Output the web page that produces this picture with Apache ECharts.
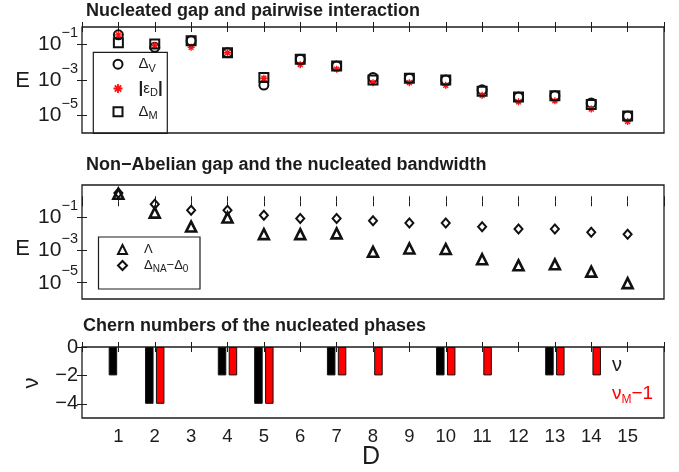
<!DOCTYPE html>
<html>
<head>
<meta charset="utf-8">
<script src="https://cdn.jsdelivr.net/npm/echarts@6/dist/echarts.min.js"></script>
<style>
  html, body { margin: 0; padding: 0; background: #fff; }
  #chart { width: 679px; height: 472px; }
</style>
</head>
<body>
<div id="chart"></div>
<script>
// System size D
const D = [1, 2, 3, 4, 5, 6, 7, 8, 9, 10, 11, 12, 13, 14, 15];

// Nucleated gap and pairwise interaction (energies)
const deltaV = [0.36, 0.071, 0.166, 0.035, 5.2e-4, 0.0148, 0.0063, 1.4e-3, 1.26e-3, 1.0e-3, 2.8e-4, 1.1e-4, 1.3e-4, 5.0e-5, 9.1e-6];
const epsD   = [0.36, 0.09, 0.071, 0.035, 1.26e-3, 7.4e-3, 4.1e-3, 7.1e-4, 7.1e-4, 5.0e-4, 1.35e-4, 5.8e-5, 6.6e-5, 2.3e-5, 4.5e-6];
const deltaM = [0.13, 0.11, 0.166, 0.035, 1.4e-3, 0.0148, 0.0063, 1.0e-3, 1.26e-3, 1.0e-3, 2.3e-4, 1.1e-4, 1.3e-4, 4.1e-5, 9.1e-6];

// Non-Abelian gap and nucleated bandwidth (energies)
const lambdaGap = [2.9, 0.2, 0.028, 0.10, 0.0096, 0.0096, 0.0107, 7.9e-4, 1.26e-3, 1.17e-3, 2.75e-4, 1.17e-4, 1.35e-4, 4.8e-5, 9.5e-6];
const deltaNA   = [3.2, 0.65, 0.28, 0.28, 0.138, 0.087, 0.087, 0.063, 0.047, 0.047, 0.027, 0.020, 0.020, 0.0126, 0.0095];

// Chern numbers
const nu   = [-2, -4, 0, -2, -4, 0, -2, 0, 0, -2, 0, 0, -2, 0, 0];
const nuM1 = [0, -4, 0, -2, -4, 0, -2, -2, 0, -2, -2, 0, -2, -2, 0];

// Tick values
const energyDecades = [-5, -3, -1];
const chernTicks = [0, -2, -4];

const FONT = "'Liberation Sans', Arial, Helvetica, sans-serif";
const INK = '#1c1c1c';
const MINUS = '\u2212';

const chart = echarts.init(document.getElementById('chart'), null, { renderer: 'canvas' });

// asterisk marker (plus + cross)
const STAR = 'path://M0 4L10 4L10 6L0 6Z M4 0L6 0L6 10L4 10Z ' +
  'M2.2 0.8L9.2 7.8L7.8 9.2L0.8 2.2Z M7.8 0.8L9.2 2.2L2.2 9.2L0.8 7.8Z';

const gridBase = { show: true, borderColor: INK, borderWidth: 1.3, backgroundColor: 'transparent' };
const grids = [
  Object.assign({ left: 82, top: 27, width: 582, height: 106 }, gridBase),
  Object.assign({ left: 82, top: 185, width: 582, height: 114 }, gridBase),
  Object.assign({ left: 82, top: 347, width: 582, height: 71 }, gridBase)
];

const tickStyle = { show: true, inside: true, length: 5, lineStyle: { color: INK, width: 1 } };

function xPair(gi, showLabels) {
  const base = {
    type: 'value', gridIndex: gi, min: 0, max: 16, interval: 1,
    splitLine: { show: false }, axisLine: { show: false }, axisTick: tickStyle
  };
  return [
    Object.assign({}, base, {
      position: 'bottom',
      axisLabel: showLabels ? {
        show: true, margin: 9, fontSize: 18.5, fontFamily: FONT, color: INK,
        formatter: v => (D.indexOf(v) >= 0 ? String(v) : '')
      } : { show: false }
    }),
    Object.assign({}, base, { position: 'top', axisLabel: { show: false } })
  ];
}

function yPair(gi, min, max, ticks, label) {
  const base = {
    type: 'value', gridIndex: gi, min: min, max: max,
    splitLine: { show: false }, axisLine: { show: false },
    axisTick: Object.assign({ customValues: ticks }, tickStyle)
  };
  return [
    Object.assign({}, base, {
      position: 'left',
      axisLabel: Object.assign({ show: true, customValues: ticks, margin: 4, fontFamily: FONT, color: INK }, label)
    }),
    Object.assign({}, base, { position: 'right', axisLabel: { show: false } })
  ];
}

const powerLabel = {
  formatter: v => '{b|10}{s|' + (v < 0 ? MINUS : '') + Math.abs(v) + '}',
  rich: {
    b: { fontSize: 21, lineHeight: 38, fontFamily: FONT, color: INK },
    s: { fontSize: 14.5, lineHeight: 16, verticalAlign: 'top', fontFamily: FONT, color: INK }
  }
};
const chernLabel = {
  fontSize: 20,
  formatter: v => (v < 0 ? MINUS + Math.abs(v) : String(v))
};

const xAxes = [].concat(xPair(0, false), xPair(1, false), xPair(2, true));
const yAxes = [].concat(
  yPair(0, -6, 0, energyDecades, powerLabel),
  yPair(1, -6, 1, energyDecades, powerLabel),
  yPair(2, -5, 0, chernTicks, chernLabel)
);

const logPoints = arr => D.map((d, i) => [d, Math.log10(arr[i])]);
const barPoints = arr => D.map((d, i) => [d, arr[i]]).filter(p => p[1] !== 0);

const hollow = { color: 'transparent', borderColor: '#111', borderWidth: 2, opacity: 1 };

const series = [
  { name: 'dV', type: 'scatter', xAxisIndex: 0, yAxisIndex: 0, symbol: 'circle', symbolSize: 9,
    itemStyle: hollow, data: logPoints(deltaV) },
  { name: 'eD', type: 'scatter', xAxisIndex: 0, yAxisIndex: 0, symbol: STAR, symbolSize: 7,
    itemStyle: { color: '#ff1010', opacity: 1 }, data: logPoints(epsD) },
  { name: 'dM', type: 'scatter', xAxisIndex: 0, yAxisIndex: 0, symbol: 'rect', symbolSize: 9,
    itemStyle: hollow, data: logPoints(deltaM) },
  { name: 'lam', type: 'scatter', xAxisIndex: 2, yAxisIndex: 2, symbol: 'triangle', symbolSize: 10,
    itemStyle: { color: 'transparent', borderColor: '#111', borderWidth: 2.6, opacity: 1 }, data: logPoints(lambdaGap) },
  { name: 'dNA', type: 'scatter', xAxisIndex: 2, yAxisIndex: 2, symbol: 'diamond', symbolSize: [8, 9],
    itemStyle: hollow, data: logPoints(deltaNA) },
  { name: 'nu', type: 'bar', xAxisIndex: 4, yAxisIndex: 4, barWidth: 8.5, barGap: '28%',
    itemStyle: { color: '#000', borderColor: '#111', borderWidth: 1 }, data: barPoints(nu) },
  { name: 'nuM', type: 'bar', xAxisIndex: 4, yAxisIndex: 4, barWidth: 8.5, barGap: '28%',
    itemStyle: { color: '#ff0000', borderColor: '#111', borderWidth: 1 }, data: barPoints(nuM1) }
];

const legendText = {
  dV: '{g|Δ}{sb|V}',
  eD: '{bar||}{g|ε}{sb|D}{bar||}',
  dM: '{g|Δ}{sb|M}',
  lam: '{m|Λ}',
  dNA: '{m|Δ}{ms|NA}{m|' + MINUS + 'Δ}{ms|0}'
};
const legendRich = {
  g: { fontSize: 15, lineHeight: 20, fontFamily: FONT, color: INK },
  bar: { fontSize: 17, lineHeight: 20, fontWeight: 'bold', fontFamily: FONT, color: INK },
  sb: { fontSize: 11, lineHeight: 13, verticalAlign: 'bottom', fontFamily: FONT, color: INK },
  m: { fontSize: 13, lineHeight: 18, fontFamily: FONT, color: INK },
  ms: { fontSize: 10, lineHeight: 11, verticalAlign: 'bottom', fontFamily: FONT, color: INK }
};

const legends = [
  { orient: 'vertical', left: 112.5, top: 56.7, padding: 0, itemGap: 5.8, itemWidth: 9, itemHeight: 9,
    selectedMode: false, data: ['dV', 'eD', 'dM'], formatter: n => legendText[n],
    textStyle: { padding: [0, 0, 0, 11], rich: legendRich } },
  { orient: 'vertical', left: 117, top: 243, padding: 0, itemGap: 3, itemWidth: 9, itemHeight: 9,
    selectedMode: false, data: ['lam', 'dNA'], formatter: n => legendText[n],
    textStyle: { padding: [0, 0, 0, 12], rich: legendRich } }
];

function label(text, x, y, size, extra) {
  return Object.assign({
    type: 'text', x: x, y: y, silent: true,
    style: { text: text, x: 0, y: 0, fontSize: size, fontFamily: FONT, fill: INK, align: 'left', verticalAlign: 'middle' }
  }, extra || {});
}
function title(text, x, y) {
  const t = label(text, x, y, 18);
  t.style.fontWeight = 'bold';
  return t;
}
function centered(text, x, y, size, extra) {
  const t = label(text, x, y, size, extra);
  t.style.align = 'center';
  return t;
}

const graphics = [
  title('Nucleated gap and pairwise interaction', 86, 11),
  title('Non\u2212Abelian gap and the nucleated bandwidth', 86, 165),
  title('Chern numbers of the nucleated phases', 83, 326),
  centered('E', 22.5, 80.5, 22),
  centered('E', 22.5, 248.5, 22),
  centered('ν', 32, 383, 22, { rotation: Math.PI / 2 }),
  centered('D', 371, 457, 25),
  { type: 'rect', silent: true, shape: { x: 93.3, y: 52.3, width: 74, height: 81 },
    style: { fill: 'none', stroke: INK, lineWidth: 1.2 } },
  { type: 'rect', silent: true, shape: { x: 98.5, y: 237, width: 101.5, height: 52 },
    style: { fill: 'none', stroke: INK, lineWidth: 1.2 } },
  label('ν', 612, 365, 20),
  {
    type: 'text', x: 612, y: 394, silent: true,
    style: {
      text: '{a|ν}{b|M}{a|' + MINUS + '1}', x: 0, y: 0, align: 'left', verticalAlign: 'middle',
      rich: {
        a: { fontSize: 19, lineHeight: 24, fontFamily: FONT, fill: '#ff0000' },
        b: { fontSize: 12, lineHeight: 13, verticalAlign: 'bottom', fontFamily: FONT, fill: '#ff0000' }
      }
    }
  }
];

chart.setOption({
  animation: false,
  backgroundColor: '#fff',
  textStyle: { fontFamily: FONT },
  grid: grids,
  xAxis: xAxes,
  yAxis: yAxes,
  legend: legends,
  series: series,
  graphic: graphics
});
</script>
</body>
</html>
